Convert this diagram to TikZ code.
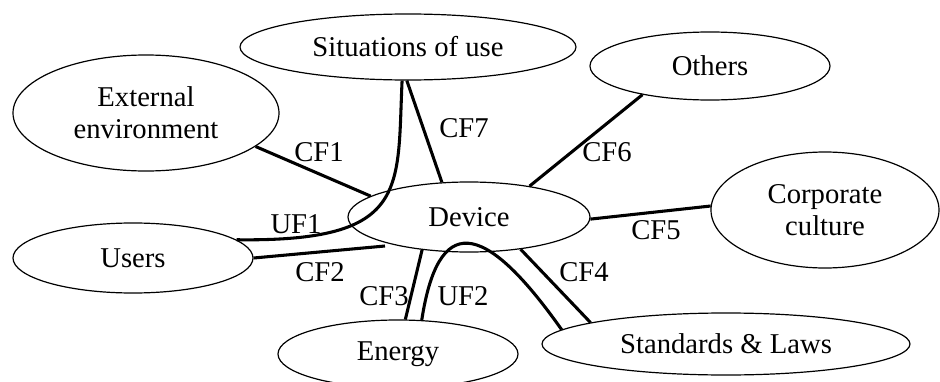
\documentclass[tikz,border=0pt]{standalone}
\usepackage{fontspec}
\setmainfont{Liberation Serif}
\usetikzlibrary{shapes.geometric}

\begin{document}
\begin{tikzpicture}[x=0.75pt, y=-0.75pt]
      % Node style
      \tikzset{
        factor/.style={draw, ellipse, line width=0.9pt, inner sep=0pt, align=center,
          font=\fontsize{21.5}{24}\selectfont},
        link/.style={line width=2.3pt},
        lbl/.style={inner sep=0pt, font=\fontsize{21.5}{24}\selectfont},
      }
      \clip (0,0) rectangle (940,382);
      % Nodes
      \node (device) [factor, minimum width=181.5pt, minimum height=52.5pt] at (469,217) {Device};
      \node (sit) [factor, minimum width=252pt, minimum height=49.5pt] at (408,47) {Situations of use};
      \node (ext) [factor, minimum width=199.5pt, minimum height=87pt] at (146,113) {External\\environment};
      \node (users) [factor, minimum width=180pt, minimum height=52.5pt] at (133,258) {Users};
      \node (energy) [factor, minimum width=180pt, minimum height=51pt] at (398,354) {Energy};
      \node (others) [factor, minimum width=180pt, minimum height=51pt] at (710,66) {Others};
      \node (corp) [factor, minimum width=171pt, minimum height=87pt] at (825,210) {Corporate\\culture};
      \node (stdlaws) [factor, minimum width=276pt, minimum height=46.5pt] at (726,344) {Standards \& Laws};
      \coordinate (cftwoend) at (385,246);
      % Links
      \draw[link] (ext.-17) -- (device.168);
      \draw[link] (sit.-92) -- (device.128);
      \draw[link] (users.10) .. controls (410,242) and (397,190) .. (sit.-100);
      \draw[link] (users.east) -- (cftwoend);
      \draw[link] (device.-145) -- (energy.78);
      \draw[link] (energy.55) .. controls (438,215) and (482,217) .. (stdlaws.175);
      \draw[link] (device.-32) -- (stdlaws.171);
      \draw[link] (device.-1) -- (corp.178);
      \draw[link] (device.27) -- (others.-157);
      % Labels
      \node (cfone) [lbl] at (319,152) {CF1};
      \node (cfseven) [lbl] at (464,128) {CF7};
      \node (ufone) [lbl] at (296,224) {UF1};
      \node (cftwo) [lbl] at (320,272) {CF2};
      \node (cfthree) [lbl] at (384,296) {CF3};
      \node (uftwo) [lbl] at (463,296) {UF2};
      \node (cffour) [lbl] at (584,272) {CF4};
      \node (cffive) [lbl] at (656,230) {CF5};
      \node (cfsix) [lbl] at (607,152) {CF6};
    \end{tikzpicture}
\end{document}
